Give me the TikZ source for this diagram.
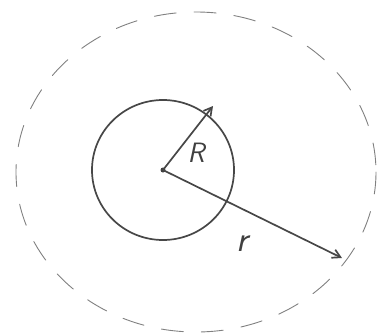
\documentclass[tikz,border=0pt]{standalone}
\usetikzlibrary{arrows.meta}
\begin{document}
\begin{tikzpicture}[x=1pt,y=-1pt,
  ink/.style={draw=black!72,line width=1.7pt,line cap=round},
  halo/.style={draw=black!50,line width=0.9pt,dash pattern=on 22pt off 18pt,line cap=round},
  tip/.style={-{Straight Barb[length=8pt,width=9pt]}},
  lab/.style={font=\sffamily\slshape\fontsize{28}{28}\selectfont,text=black!75}]
\useasboundingbox (0,0) rectangle (378,335);
\coordinate (O) at (163,170);
\coordinate (Rend) at (213,106);
\coordinate (rend) at (342,258);
\draw[halo] (196,172) ellipse [x radius=180, y radius=160];
\draw[ink] (O) ellipse [x radius=71, y radius=70];
\fill[black!75] (O) circle (2.5);
\draw[ink,tip] (O) -- (Rend);
\draw[ink,tip] (O) -- (rend);
\node[lab] (Rl) at (196,153) {R};
\node[lab,font=\sffamily\slshape\fontsize{36}{36}\selectfont] (rl) at (242,244) {r};
\end{tikzpicture}
\end{document}
